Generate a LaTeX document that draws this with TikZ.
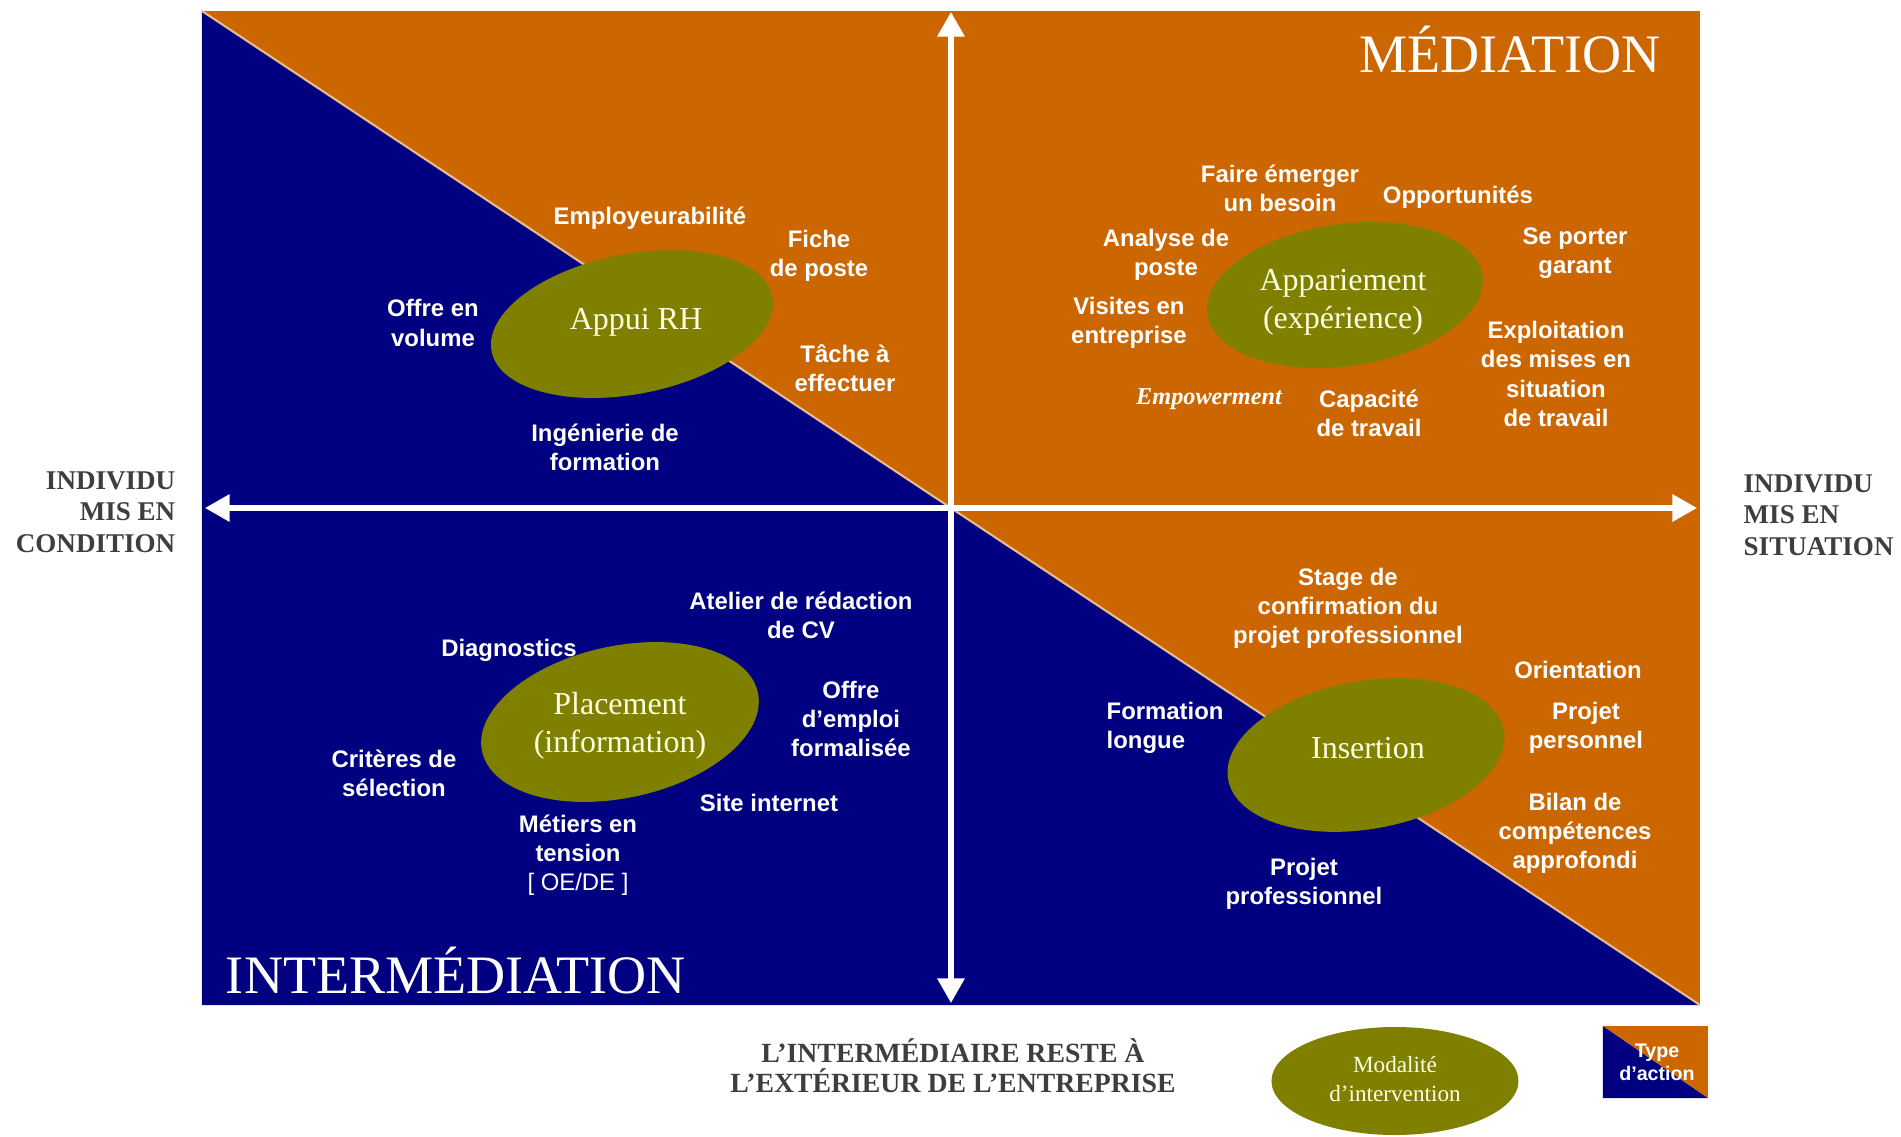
\documentclass[tikz,border=0pt]{standalone}
\usepackage{fontspec}
\setmainfont{Liberation Serif}
\setsansfont{Liberation Sans}
\usetikzlibrary{arrows.meta}
\definecolor{navyfond}{RGB}{0,0,128}
\definecolor{rouille}{RGB}{204,102,0}
\definecolor{olivefond}{RGB}{128,128,0}
\definecolor{creme}{RGB}{255,255,225}
\definecolor{grisfonce}{RGB}{62,62,62}
\tikzset{
	lab/.style={text=white, font=\sffamily\bfseries\fontsize{6.8}{8.3}\selectfont, align=center, inner sep=0pt},
	modal/.style={text=creme, font=\fontsize{9.1}{10.8}\selectfont, align=center, inner sep=0pt},
	titre/.style={text=white, font=\fontsize{15.4}{17}\selectfont, inner sep=0pt, anchor=base},
	cote/.style={text=grisfonce, font=\bfseries\fontsize{7.7}{9}\selectfont, inner sep=0pt},
	axe/.style={white, line width=1.5pt, {Triangle[length=7pt,width=7.5pt]}-{Triangle[length=7pt,width=7.5pt]}},
}

\begin{document}
\begin{tikzpicture}
	\useasboundingbox (-9.51,-6.28) rectangle (9.50,5.08);
	\coordinate (TL) at (-7.49, 4.97);
	\coordinate (TR) at (7.49, 4.97);
	\coordinate (BL) at (-7.49, -4.97);
	\coordinate (BR) at (7.49, -4.97);
	\fill [rouille] (TL) -- (TR) -- (BR) -- cycle;
	\fill [navyfond] (TL) -- (BL) -- (BR) -- cycle;
	\draw [white!55!rouille, line width=0.6pt] (TL) -- (BR);
	\coordinate (W) at (-7.46, 0);
	\coordinate (E) at (7.46, 0);
	\coordinate (N) at (0, 4.96);
	\coordinate (S) at (0, -4.95);
	\draw [axe] (W) -- (E);
	\draw [axe] (N) -- (S);

	\fill [olivefond] (-3.19, 1.84) circle [x radius=1.43, y radius=0.70, rotate=11];
	\fill [olivefond] (3.94, 2.13) circle [x radius=1.39, y radius=0.71, rotate=8];
	\fill [olivefond] (-3.31, -2.14) circle [x radius=1.41, y radius=0.76, rotate=12];
	\fill [olivefond] (4.15, -2.47) circle [x radius=1.40, y radius=0.74, rotate=10];
	\node [modal] (appui) at (-3.15, 1.86) {Appui RH};
	\node [modal] (appar) at (3.92, 2.06) {Appariement\\(expérience)};
	\node [modal] (place) at (-3.31, -2.18) {Placement\\(information)};
	\node [modal] (inser) at (4.17, -2.40) {Insertion};

	\node [titre] (med) at (5.59, 4.36) {MÉDIATION};
	\node [titre] (inter) at (-4.95, -4.85) {INTERMÉDIATION};

	\node [lab] (employ) at (-3.01, 2.90) {Employeurabilité};
	\node [lab] (fiche) at (-1.32, 2.52) {Fiche\\de poste};
	\node [lab] (volume) at (-5.18, 1.85) {Offre en\\volume};
	\node [lab] (tache) at (-1.06, 1.40) {Tâche à\\effectuer};
	\node [lab] (ingen) at (-3.46, 0.61) {Ingénierie de\\formation};

	\node [lab] (besoin) at (3.29, 3.20) {Faire émerger\\un besoin};
	\node [lab] (opport) at (5.07, 3.11) {Opportunités};
	\node [lab] (analyse) at (2.15, 2.53) {Analyse de\\poste};
	\node [lab] (garant) at (6.24, 2.55) {Se porter\\garant};
	\node [lab] (visites) at (1.78, 1.85) {Visites en\\entreprise};
	\node [lab] (exploit) at (6.05, 1.34) {Exploitation\\des mises en\\situation\\de travail};
	\node [lab, font=\bfseries\itshape\fontsize{6.9}{8.3}\selectfont] (empow) at (2.58, 1.09) {Empowerment};
	\node [lab] (capac) at (4.18, 0.95) {Capacité\\de travail};

	\node [lab] (atelier) at (-1.50, -1.07) {Atelier de rédaction\\de CV};
	\node [lab] (diagn) at (-4.42, -1.42) {Diagnostics};
	\node [lab] (offre) at (-1.00, -2.11) {Offre\\d’emploi\\formalisée};
	\node [lab] (criteres) at (-5.57, -2.65) {Critères de\\sélection};
	\node [lab] (site) at (-1.82, -2.95) {Site internet};
	\node [lab] (metiers) at (-3.73, -3.47) {Métiers en\\tension\\{\mdseries [ OE/DE ]}};

	\node [lab] (stage) at (3.97, -1.00) {Stage de\\confirmation du\\projet professionnel};
	\node [lab] (orient) at (6.27, -1.62) {Orientation};
	\node [lab, align=left, anchor=west] (longue) at (1.55, -2.20) {Formation\\longue};
	\node [lab] (perso) at (6.35, -2.20) {Projet\\personnel};
	\node [lab] (bilan) at (6.24, -3.25) {Bilan de\\compétences\\approfondi};
	\node [lab] (projpro) at (3.53, -3.76) {Projet\\professionnel};

	\node [cote, align=right, anchor=east] (cond) at (-7.75, -0.04) {INDIVIDU\\MIS EN\\CONDITION};
	\node [cote, align=left, anchor=west] (situ) at (7.92, -0.07) {INDIVIDU\\MIS EN\\SITUATION};
	\node [cote, align=center, font=\bfseries\fontsize{7.9}{8.6}\selectfont] (exter) at (0.02, -5.58) {L’INTERMÉDIAIRE RESTE À\\L’EXTÉRIEUR DE L’ENTREPRISE};

	\fill [olivefond] (4.44, -5.73) circle [x radius=1.235, y radius=0.54];
	\node [modal, font=\fontsize{6.6}{8.5}\selectfont] (modalite) at (4.44, -5.71) {Modalité\\d’intervention};
	\coordinate (LT) at (6.52, -5.18);
	\coordinate (RT) at (7.57, -5.18);
	\coordinate (LB) at (6.52, -5.90);
	\coordinate (RB) at (7.57, -5.90);
	\fill [navyfond] (LT) -- (LB) -- (RB) -- cycle;
	\fill [rouille] (LT) -- (RT) -- (RB) -- cycle;
	\node [lab, font=\sffamily\bfseries\fontsize{5.6}{6.5}\selectfont] (typeact) at (7.06, -5.54) {Type\\d’action};
\end{tikzpicture}
\end{document}
